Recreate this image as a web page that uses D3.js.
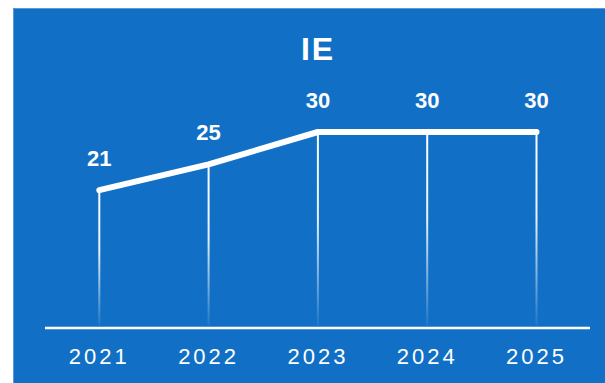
<!DOCTYPE html>
<html>
<head>
<meta charset="utf-8">
<script src="https://cdn.jsdelivr.net/npm/d3@7"></script>
<style>
  html, body { margin: 0; padding: 0; background: #ffffff; }
  svg { display: block; }
</style>
</head>
<body>
<svg id="chart" width="605" height="383"></svg>
<script>
const title = "IE";
const categories = ["2021", "2022", "2023", "2024", "2025"];
const values = [21, 25, 30, 30, 30];
const yDomain = [0, 30];

const W = 605, H = 383;
const svg = d3.select("#chart");
const font = "Arial, 'Liberation Sans', sans-serif";

// panel
svg.append("rect").attr("x", 13).attr("y", 8).attr("width", W - 13).attr("height", H - 8)
  .attr("fill", "#1170c5");
svg.append("path").attr("d", `M13.5,${H} V8.5 H${W}`).attr("fill", "none")
  .attr("stroke", "#5a9ad6").attr("stroke-width", 1);

const x = d3.scalePoint().domain(categories).range([99.3, 536.5]);
const y = d3.scaleLinear().domain(yDomain).range([326, 132]);

const defs = svg.append("defs");
const grad = defs.append("linearGradient").attr("id", "fade")
  .attr("x1", 0).attr("y1", 0).attr("x2", 0).attr("y2", 1);
grad.append("stop").attr("offset", "0%").attr("stop-color", "#ffffff").attr("stop-opacity", 1);
grad.append("stop").attr("offset", "45%").attr("stop-color", "#ffffff").attr("stop-opacity", 0.9);
grad.append("stop").attr("offset", "100%").attr("stop-color", "#ffffff").attr("stop-opacity", 0.05);

// vertical drop lines
svg.append("g").selectAll("rect").data(categories).join("rect")
  .attr("x", d => x(d) - 1)
  .attr("y", (d, i) => y(values[i]))
  .attr("width", 2)
  .attr("height", (d, i) => y(0) - y(values[i]))
  .attr("fill", "url(#fade)");

// axis baseline
const axis = d3.axisBottom(x).tickSize(0).tickPadding(20);
const gAxis = svg.append("g").attr("transform", `translate(0,${y(0) + 2})`).call(axis);
gAxis.select(".domain").remove();
gAxis.append("line").attr("x1", 45).attr("x2", 590).attr("y1", 0).attr("y2", 0)
  .attr("stroke", "#ffffff").attr("stroke-width", 2.5);
gAxis.selectAll(".tick text")
  .attr("fill", "#ffffff")
  .attr("font-family", font)
  .attr("font-size", 22)
  .attr("letter-spacing", 3)
  .attr("dx", -0.5)
  .attr("dy", "0.71em");

// line
const line = d3.line().x((d, i) => x(categories[i])).y(d => y(d));
svg.append("path").datum(values).attr("d", line)
  .attr("fill", "none").attr("stroke", "#ffffff").attr("stroke-width", 6)
  .attr("stroke-linecap", "round").attr("stroke-linejoin", "round");

// value labels
svg.append("g").selectAll("text").data(values).join("text")
  .attr("x", (d, i) => x(categories[i]))
  .attr("y", d => y(d) - 24)
  .attr("text-anchor", "middle")
  .attr("fill", "#ffffff")
  .attr("font-family", font)
  .attr("font-weight", "bold")
  .attr("font-size", 22)
  .text(d => d);

// title
svg.append("text").attr("x", 317).attr("y", 60).attr("text-anchor", "middle")
  .attr("fill", "#ffffff").attr("font-family", font).attr("font-weight", "bold")
  .attr("font-size", 32).attr("letter-spacing", 2).attr("dx", 1)
  .text(title);
</script>
</body>
</html>
